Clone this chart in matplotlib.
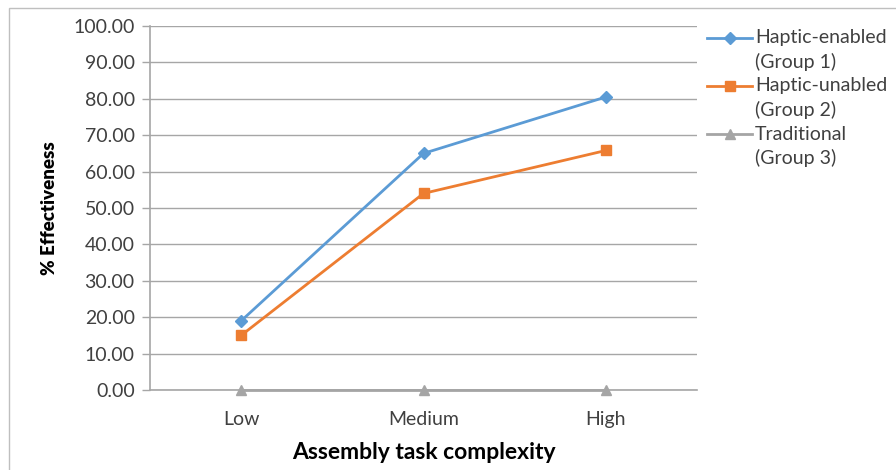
import matplotlib
matplotlib.use("Agg")
import matplotlib.pyplot as plt
from matplotlib.lines import Line2D
from matplotlib.patches import Rectangle
from matplotlib.ticker import FormatStrFormatter

plt.rcParams['font.family'] = ['Lato', 'DejaVu Sans']

categories = ["Low", "Medium", "High"]
haptic_enabled = [19.0, 65.0, 80.5]
haptic_unabled = [15.0, 54.0, 65.8]
traditional = [0.0, 0.0, 0.0]

series_labels = ["Haptic-enabled", "Haptic-unabled", "Traditional"]
series_groups = ["(Group 1)", "(Group 2)", "(Group 3)"]
y_ticks = [0, 10, 20, 30, 40, 50, 60, 70, 80, 90, 100]

colors = ["#5B9BD5", "#ED7D31", "#A5A5A5"]
markers = ["D", "s", "^"]
msizes = [6, 7.5, 7.5]
text_color = "#404040"

W, H = 896, 470
fig = plt.figure(figsize=(W / 100, H / 100), dpi=100)
left, right, top, bottom = 150, 697, 26, 390
ax = fig.add_axes([left / W, 1 - bottom / H, (right - left) / W, (bottom - top) / H])

x = list(range(len(categories)))
for vals, c, m, ms in zip([haptic_enabled, haptic_unabled, traditional], colors, markers, msizes):
    ax.plot(x, vals, color=c, marker=m, markersize=ms, linewidth=2, zorder=3, clip_on=False)

ax.set_xlim(-0.5, len(categories) - 0.5)
ax.set_ylim(0, 100)
ax.set_yticks(y_ticks)
ax.yaxis.set_major_formatter(FormatStrFormatter("%.2f"))
ax.set_xticks(x)
ax.set_xticklabels(categories)
ax.tick_params(axis="y", length=6, width=1, color="#A6A6A6", labelsize=14,
               labelcolor=text_color, pad=5)
ax.tick_params(axis="x", length=0, labelsize=14, labelcolor=text_color, pad=15)
ax.grid(axis="y", color="#A6A6A6", linewidth=1)
ax.set_axisbelow(True)
for s in ["top", "right"]:
    ax.spines[s].set_visible(False)
for s in ["left", "bottom"]:
    ax.spines[s].set_color("#A6A6A6")
    ax.spines[s].set_linewidth(1.2)

ax.set_ylabel("% Effectiveness", fontsize=13.5, fontweight="heavy")
ax.yaxis.set_label_coords(-0.168, 0.5)
ax.set_xlabel("Assembly task complexity", fontsize=16.5, fontweight="bold", labelpad=10)

# legend drawn entry by entry, handle aligned with first text line
for i, (lab, grp, c, m, ms) in enumerate(zip(series_labels, series_groups, colors, markers, msizes)):
    y0 = 38 + i * 48
    fig.add_artist(Line2D([707 / W, 752 / W], [1 - y0 / H] * 2, color=c, linewidth=2,
                          transform=fig.transFigure))
    fig.add_artist(Line2D([729.5 / W], [1 - y0 / H], color=c, marker=m, markersize=ms,
                          linewidth=0, transform=fig.transFigure))
    fig.text(755 / W, 1 - y0 / H, lab, fontsize=14, color=text_color, va="center", ha="left")
    fig.text(755 / W, 1 - (y0 + 24) / H, grp, fontsize=14, color=text_color, va="center", ha="left")

# chart frame
fig.add_artist(Rectangle((9 / W, -0.1), 1.2, 1.1 - 8 / H, transform=fig.transFigure,
                         fill=False, edgecolor="#BFBFBF", linewidth=1))

fig.savefig("out.png", dpi=100)
